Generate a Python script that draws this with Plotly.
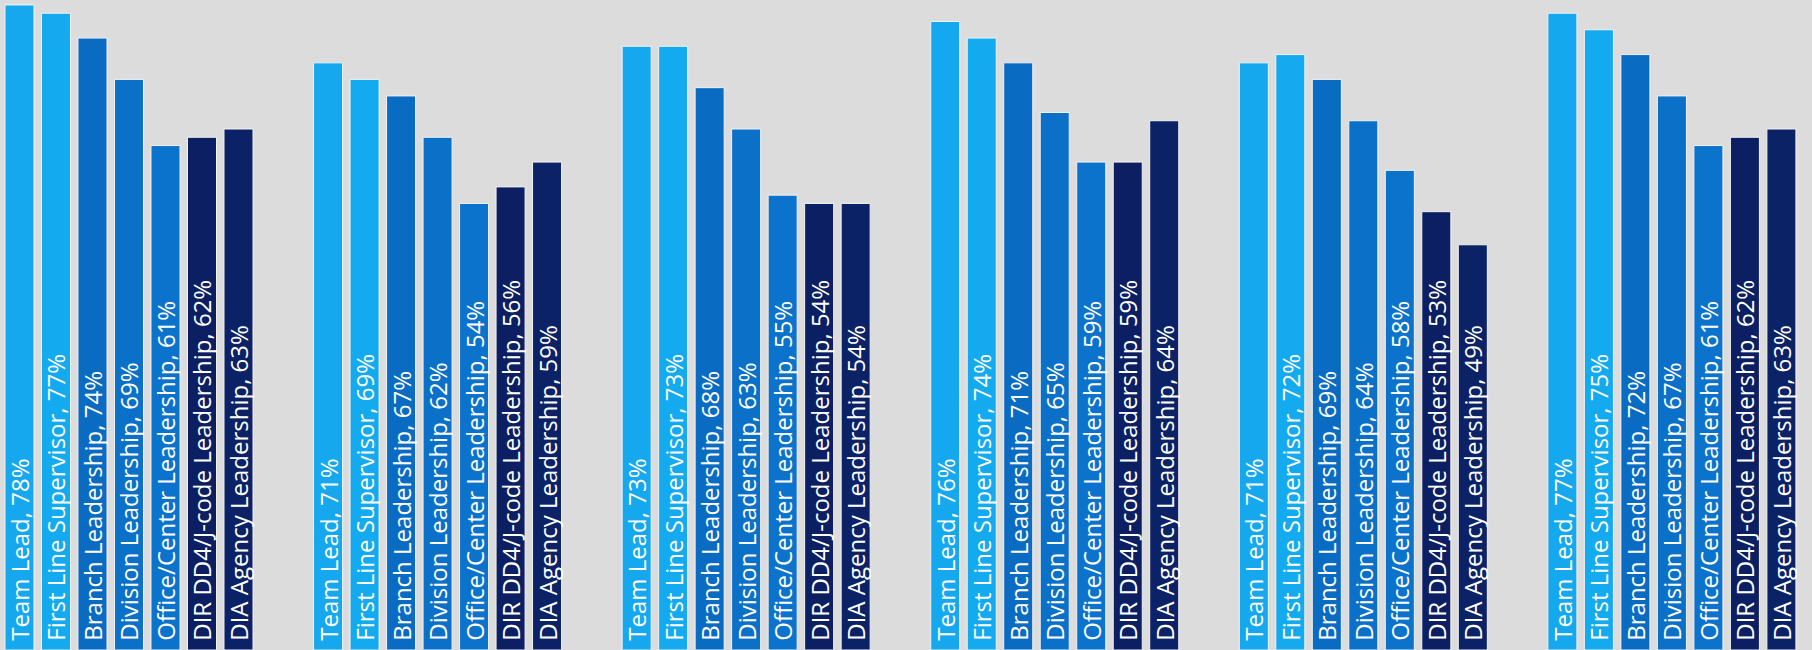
import plotly.graph_objects as go

# ---- data ----
groups = ["Survey 1", "Survey 2", "Survey 3", "Survey 4", "Survey 5", "Survey 6"]
categories = [
    "Team Lead",
    "First Line Supervisor",
    "Branch Leadership",
    "Division Leadership",
    "Office/Center Leadership",
    "DIR DD4/J-code Leadership",
    "DIA Agency Leadership",
]
team_lead = [78, 71, 73, 76, 71, 77]
first_line = [77, 69, 73, 74, 72, 75]
branch = [74, 67, 68, 71, 69, 72]
division = [69, 62, 63, 65, 64, 67]
office_center = [61, 54, 55, 59, 58, 61]
dir_dd4 = [62, 56, 54, 59, 53, 62]
dia_agency = [63, 59, 54, 64, 49, 63]

series = [team_lead, first_line, branch, division, office_center, dir_dd4, dia_agency]
colors = ["#16a8ee", "#14aaf0", "#0a6bc3", "#0b70c8", "#0c73cc", "#0b1f62", "#0c2266"]

fig = go.Figure()
for cat, vals, col in zip(categories, series, colors):
    fig.add_trace(go.Bar(
        x=groups,
        y=vals,
        name=cat,
        marker=dict(color=col, line=dict(color="#f2f2f2", width=1)),
        text=[f"\u00a0{cat}, {v}%" for v in vals],
        textposition="inside",
        insidetextanchor="start",
        textangle=-90,
        constraintext="none",
        textfont=dict(family="Open Sans, sans-serif", size=24, color="white"),
        hoverinfo="text",
    ))

fig.update_layout(
    width=1812,
    height=650,
    margin=dict(l=0, r=0, t=0, b=0),
    barmode="group",
    bargap=0.172,
    bargroupgap=0.205,
    showlegend=False,
    paper_bgcolor="#dcdcdc",
    plot_bgcolor="#dcdcdc",
    xaxis=dict(type="category", range=[-0.418, 5.454], visible=False),
    yaxis=dict(range=[0, 78.6], visible=False),
)

fig.write_html(
    "out.html",
    config={"displayModeBar": False},
    post_script="document.body.style.margin='0';document.body.style.overflow='hidden';",
)
